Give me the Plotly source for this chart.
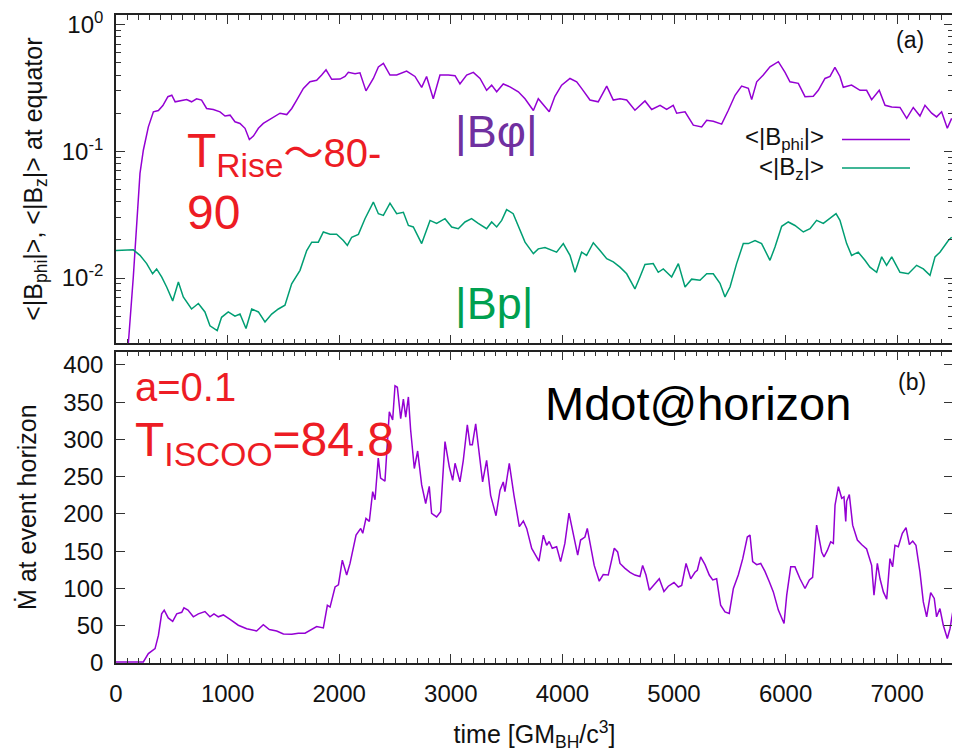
import plotly.graph_objects as go
from plotly.subplots import make_subplots

# ---------------- data ----------------
t_bphi = [95, 110, 155, 215, 245, 290, 335, 380, 420, 465, 500, 530, 573, 633, 677, 722, 767, 812, 872, 932,
          977, 1022, 1066, 1111, 1156, 1195, 1231, 1276, 1320, 1365, 1410, 1470, 1530, 1575, 1619, 1679,
          1738, 1798, 1843, 1882, 1933, 2007, 2052, 2082, 2142, 2186, 2240, 2306, 2351, 2396, 2455, 2515,
          2604, 2679, 2739, 2783, 2843, 2903, 2978, 3038, 3082, 3142, 3202, 3262, 3321, 3366, 3411, 3470,
          3530, 3605, 3665, 3740, 3784, 3829, 3882, 3933, 3993, 4068, 4128, 4172, 4247, 4321, 4397, 4456,
          4516, 4576, 4650, 4740, 4800, 4875, 4934, 4993, 5024, 5099, 5173, 5248, 5293, 5352, 5427, 5487,
          5547, 5606, 5666, 5696, 5741, 5800, 5860, 5935, 5995, 6039, 6114, 6174, 6248, 6293, 6353, 6398,
          6442, 6487, 6517, 6591, 6667, 6726, 6771, 6839, 6891, 6951, 7025, 7085, 7144, 7204, 7249, 7309,
          7353, 7398, 7449, 7488]
bphi = [0.002, 0.003, 0.0102, 0.067, 0.102, 0.156, 0.205, 0.21, 0.23, 0.27, 0.277, 0.246, 0.25, 0.256, 0.246,
        0.26, 0.254, 0.218, 0.214, 0.205, 0.19, 0.193, 0.171, 0.166, 0.152, 0.124, 0.132, 0.152, 0.166, 0.176,
        0.187, 0.2, 0.195, 0.218, 0.254, 0.314, 0.354, 0.364, 0.4, 0.44, 0.37, 0.372, 0.39, 0.42, 0.41, 0.417,
        0.3, 0.376, 0.464, 0.494, 0.4, 0.4, 0.43, 0.39, 0.32, 0.39, 0.26, 0.4, 0.4, 0.395, 0.34, 0.4, 0.42,
        0.376, 0.303, 0.333, 0.295, 0.34, 0.323, 0.295, 0.26, 0.21, 0.26, 0.231, 0.205, 0.272, 0.333, 0.376,
        0.354, 0.314, 0.254, 0.246, 0.327, 0.254, 0.26, 0.254, 0.211, 0.25, 0.214, 0.231, 0.214, 0.231, 0.2,
        0.205, 0.161, 0.156, 0.176, 0.173, 0.164, 0.211, 0.277, 0.327, 0.314, 0.256, 0.354, 0.4, 0.465, 0.51,
        0.42, 0.354, 0.344, 0.27, 0.272, 0.303, 0.376, 0.39, 0.46, 0.39, 0.32, 0.333, 0.303, 0.303, 0.256,
        0.303, 0.231, 0.224, 0.222, 0.182, 0.222, 0.19, 0.231, 0.2, 0.187, 0.205, 0.152, 0.182]

t_bz = [0, 60, 155, 215, 275, 328, 364, 409, 454, 508, 559, 603, 677, 738, 797, 842, 907, 946, 1006, 1066,
        1111, 1165, 1216, 1276, 1335, 1395, 1455, 1514, 1574, 1649, 1709, 1754, 1813, 1858, 1918, 1977,
        2037, 2073, 2112, 2172, 2231, 2306, 2351, 2396, 2455, 2515, 2575, 2620, 2664, 2739, 2814, 2873,
        2948, 3008, 3067, 3127, 3186, 3246, 3321, 3366, 3411, 3456, 3500, 3559, 3605, 3665, 3740, 3784,
        3844, 3903, 3948, 4008, 4068, 4113, 4172, 4217, 4277, 4337, 4397, 4456, 4516, 4576, 4650, 4695,
        4740, 4814, 4859, 4904, 4979, 5039, 5099, 5158, 5233, 5293, 5352, 5412, 5457, 5502, 5561, 5621,
        5666, 5726, 5785, 5860, 5905, 5965, 6024, 6084, 6159, 6219, 6278, 6338, 6398, 6452, 6487, 6547,
        6591, 6651, 6711, 6756, 6816, 6861, 6905, 6951, 7025, 7100, 7174, 7234, 7294, 7339, 7383, 7428,
        7458, 7488]
bz = [0.0165, 0.0165, 0.0167, 0.0151, 0.013, 0.0108, 0.0118, 0.0102, 0.0085, 0.0066,
      0.0093, 0.0071, 0.0057, 0.0063, 0.0054, 0.0042, 0.00385, 0.0049, 0.0054, 0.005,
      0.0052, 0.004, 0.0057, 0.0054, 0.0045, 0.0052, 0.0057, 0.0061, 0.009, 0.0115,
      0.0165, 0.0192, 0.0192, 0.0231, 0.0222, 0.0222, 0.0198, 0.0181, 0.021, 0.0221,
      0.0294, 0.0398, 0.0322, 0.0312, 0.039, 0.0322, 0.033, 0.026, 0.0253, 0.0187,
      0.0285, 0.027, 0.0294, 0.0253, 0.0245, 0.0277, 0.0294, 0.027, 0.0245, 0.0277,
      0.0253, 0.0285, 0.0347, 0.0322, 0.026, 0.0192, 0.0156, 0.017, 0.0174, 0.0165,
      0.016, 0.0187, 0.0151, 0.0111, 0.016, 0.0151, 0.019, 0.0165, 0.0142, 0.0134,
      0.0122, 0.0108, 0.0082, 0.0102, 0.0128, 0.013, 0.0111, 0.0118, 0.0102, 0.013,
      0.0085, 0.0098, 0.0096, 0.0108, 0.0108, 0.0091, 0.0071, 0.0085, 0.013, 0.0187,
      0.0187, 0.0198, 0.0187, 0.0138, 0.0176, 0.0256, 0.0277, 0.026, 0.0231, 0.0245,
      0.0285, 0.027, 0.0294, 0.0322, 0.0285, 0.0187, 0.0151, 0.016, 0.0138, 0.0122,
      0.0111, 0.0147, 0.0126, 0.0147, 0.0111, 0.0108, 0.0126, 0.0118, 0.0105, 0.0147,
      0.016, 0.0181, 0.0198, 0.021]

t_mdot = [0, 245, 290, 350, 380, 409, 432, 468, 508, 544,
          589, 609, 645, 693, 738, 797, 842, 878, 917, 962,
          1022, 1096, 1171, 1260, 1320, 1374, 1440, 1500, 1575, 1634,
          1694, 1754, 1798, 1858, 1894, 1918, 1963, 1993, 2028, 2067,
          2097, 2151, 2193, 2211, 2240, 2270, 2300, 2321, 2350, 2371,
          2410, 2449, 2479, 2500, 2521, 2551, 2575, 2596, 2620, 2640,
          2673, 2703, 2739, 2775, 2807, 2828, 2873, 2909, 2948, 2987,
          3017, 3038, 3082, 3112, 3148, 3172, 3193, 3223, 3246, 3285,
          3321, 3357, 3405, 3441, 3470, 3485, 3524, 3566, 3614, 3650,
          3680, 3725, 3790, 3829, 3859, 3882, 3909, 3948, 3984, 4022,
          4059, 4097, 4137, 4163, 4202, 4223, 4253, 4285, 4330, 4366,
          4411, 4441, 4465, 4495, 4516, 4561, 4606, 4650, 4695, 4719,
          4749, 4779, 4814, 4868, 4910, 4949, 5000, 5039, 5069, 5108,
          5150, 5188, 5209, 5239, 5278, 5316, 5347, 5382, 5418, 5457,
          5495, 5532, 5576, 5616, 5657, 5681, 5705, 5741, 5777, 5815,
          5854, 5890, 5935, 5986, 6010, 6046, 6084, 6129, 6174, 6213,
          6242, 6278, 6323, 6344, 6374, 6404, 6428, 6443, 6473, 6503,
          6523, 6539, 6547, 6571, 6601, 6643, 6681, 6726, 6771, 6792,
          6822, 6846, 6876, 6906, 6935, 6959, 6980, 7010, 7046, 7079,
          7109, 7139, 7168, 7204, 7234, 7264, 7300, 7332, 7353, 7383,
          7413, 7449, 7473, 7497]
mdot = [1.5, 1.5, 12.6, 19.3, 37, 66, 71, 60.5, 56, 66,
        68, 74, 71, 62, 66, 69, 62, 66, 62, 64.5,
        58.5, 50.7, 46, 43, 51.5, 45, 43, 39, 38.5, 40,
        40, 45, 49, 47, 77.5, 75, 102, 105, 138, 118,
        133.6, 171.6, 180.6, 174, 194, 190, 230, 219, 275, 248,
        244, 337, 326, 372, 370, 328, 354, 330, 357, 313,
        261, 284.5, 239, 214, 237, 200.8, 196, 203, 297, 263,
        245, 268, 243, 272, 319.5, 293, 293, 321, 294, 243,
        272, 225, 197.6, 232, 243, 230, 268, 225, 183, 190.5,
        180.6, 153.8, 136.7, 171.6, 158, 163, 154, 156, 136, 160.5,
        201, 171.6, 144.8, 165, 169, 180.6, 158, 131, 109.8, 118.6,
        118, 140, 154, 149, 133.6, 127, 121.7, 118, 116, 131,
        118, 97.7, 104, 113, 96, 103, 108, 102, 104, 133.6,
        113, 121.7, 124.5, 142.5, 132, 118, 111.5, 113, 77.5, 68.6,
        66.5, 100, 118, 140, 169, 171.6, 136, 132, 133.6, 123,
        109, 95.4, 71, 53, 91, 129, 129, 113, 100, 111.5,
        115, 185, 149, 142.5, 151, 162.7, 160.5, 212, 236.6, 221,
        223, 190, 217, 226, 185, 165, 159, 153, 131, 91,
        133.6, 113, 95.4, 85.6, 140, 129, 158, 156, 174, 181.6,
        159, 163.6, 158, 122, 82, 61.8, 94.5, 86.6, 62, 73,
        50.7, 32.8, 46, 68]

x_ticks = [0, 1000, 2000, 3000, 4000, 5000, 6000, 7000]
x_minor = [v for v in range(0, 7501, 100)]
y_top_ticks = [1e-2, 1e-1, 1e0]
y_top_ticktext = ["10<sup>-2</sup>", "10<sup>-1</sup>", "10<sup>0</sup>"]
y_top_minor = [m * 10 ** e for e in (-3, -2, -1) for m in range(2, 10)]
y_bot_ticks = [0, 50, 100, 150, 200, 250, 300, 350, 400]

PURPLE = "#9400D3"
GREEN = "#009E73"
RED = "#ED1C24"
FONT = "Liberation Sans, Arial, sans-serif"

# the page body adds an 8px offset; work in screen pixels and subtract it
OFF = 8
SW, SH = 960, 753
W, H = SW - OFF, SH - OFF
S_LEFT, S_RIGHT, S_TOP, S_BOTTOM = 116, 953, 15, 663
ML = S_LEFT - OFF
MR = SW - S_RIGHT
MT = S_TOP - OFF
MB = SH - S_BOTTOM
PW, PH = S_RIGHT - S_LEFT, S_BOTTOM - S_TOP


def px(x):
    return (x - S_LEFT) / PW


def py(y):
    return (S_BOTTOM - y) / PH


fig = make_subplots(rows=2, cols=1, shared_xaxes=False, vertical_spacing=0.01)

fig.add_trace(go.Scatter(x=t_bphi, y=bphi, mode="lines", line=dict(color=PURPLE, width=1.5),
                         showlegend=False), row=1, col=1)
fig.add_trace(go.Scatter(x=t_bz, y=bz, mode="lines", line=dict(color=GREEN, width=1.5),
                         showlegend=False), row=1, col=1)
fig.add_trace(go.Scatter(x=t_mdot, y=mdot, mode="lines", line=dict(color=PURPLE, width=1.5),
                         showlegend=False), row=2, col=1)

axis_common = dict(showline=True, linecolor="#222", linewidth=1.6, mirror="ticks", ticks="inside",
                   tickcolor="#333", tickwidth=1, showgrid=False, zeroline=False, automargin=False,
                   ticklabeloverflow="allow",
                   tickfont=dict(family=FONT, size=24, color="#111"))

xcommon = dict(axis_common, range=[0, 7500], tickmode="array", tickvals=x_ticks, ticklen=9,
               minor=dict(tickmode="array", tickvals=x_minor, ticks="inside", ticklen=5,
                          tickcolor="#333", tickwidth=1, showgrid=False))

fig.update_layout(
    xaxis=dict(xcommon, domain=[0, 1], showticklabels=False, anchor="y"),
    xaxis2=dict(xcommon, domain=[0, 1], anchor="y2", ticklabelstandoff=8,
                title=dict(text="time [GM<sub>BH</sub>/c<sup>3</sup>]",
                           font=dict(family=FONT, size=25, color="#111"), standoff=20)),
    yaxis=dict(axis_common, type="log", domain=[py(343.3), 1.0], range=[-2.515, 0.076],
               tickmode="array", tickvals=y_top_ticks, ticktext=y_top_ticktext, ticklen=9,
               ticklabelstandoff=6,
               minor=dict(tickmode="array", tickvals=y_top_minor, ticks="inside", ticklen=5,
                          tickcolor="#333", tickwidth=1, showgrid=False),
               title=dict(text="&lt;|B<sub>phi</sub>|&gt;, &lt;|B<sub>z</sub>|&gt; at equator",
                          font=dict(family=FONT, size=25, color="#111"), standoff=12)),
    yaxis2=dict(axis_common, domain=[0, py(351.5)], range=[0, 418],
                tickmode="array", tickvals=y_bot_ticks, ticklen=9, ticklabelstandoff=6,
                title=dict(text="\u1E40 at event horizon",
                           font=dict(family=FONT, size=25, color="#111"), standoff=20)),
    width=W, height=H,
    margin=dict(l=ML, r=MR, t=MT, b=MB),
    paper_bgcolor="white", plot_bgcolor="white",
    showlegend=False,
)

ann = []


def text(x, y, s, size, color, xanchor="left", yanchor="middle"):
    ann.append(dict(x=px(x), y=py(y), xref="paper", yref="paper", text=s, showarrow=False,
                    xanchor=xanchor, yanchor=yanchor, align="left",
                    font=dict(family=FONT, size=size, color=color)))


text(910, 40, "(a)", 23, "#111", "center")
text(912, 382, "(b)", 23, "#111", "center")
# legend
text(826, 139, "&lt;|B<sub>phi</sub>|&gt;", 24, "#111", "right")
text(826, 168, "&lt;|B<sub>z</sub>|&gt;", 24, "#111", "right")
# big labels
text(496, 131, "|B\u03c6|", 45, "#7030A0", "center")
text(494, 303, "|Bp|", 45, "#00A050", "center")
text(185, 180,
     "T<sub>Rise</sub><span style=\"font-family:'Noto Sans CJK JP';font-size:40px\">\u301c</span>"
     "<span style='font-size:40px'>80-</span><br>90", 48, RED, "left")
text(133, 387, "a=0.1", 40, RED, "left")
text(133, 443, "T<sub>ISCOO</sub>=84.8", 48, RED, "left")
text(543, 403, "Mdot@horizon", 47, "#000", "left")

fig.update_layout(annotations=ann)

shapes = [
    dict(type="line", xref="paper", yref="paper", x0=px(842), x1=px(910), y0=py(139.5), y1=py(139.5),
         line=dict(color=PURPLE, width=1.5)),
    dict(type="line", xref="paper", yref="paper", x0=px(842), x1=px(910), y0=py(168), y1=py(168),
         line=dict(color=GREEN, width=1.5)),
]
fig.update_layout(shapes=shapes)

fig.write_html("out.html")
